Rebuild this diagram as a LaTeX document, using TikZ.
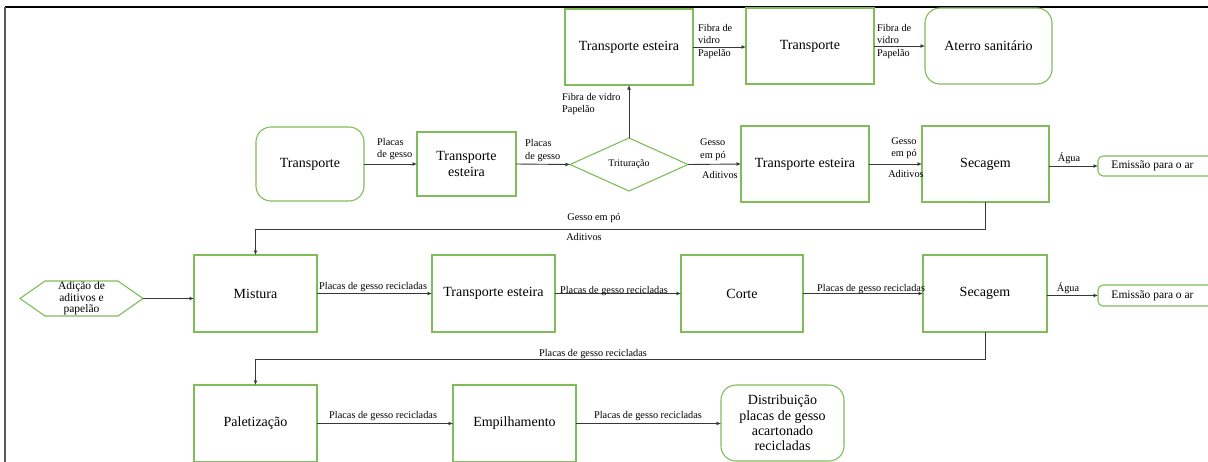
\documentclass[tikz,border=0pt]{standalone}
\usepackage{fontspec}
\setmainfont{Liberation Serif}
\newfontfamily\tnr{Liberation Serif}
\usetikzlibrary{arrows.meta,shapes.geometric}
\definecolor{grn}{RGB}{128,188,90}
\definecolor{arrc}{RGB}{55,55,55}
\newcommand{\mainfs}{\tnr\fontsize{14}{16}\selectfont}
\newcommand{\smallfs}{\tnr\fontsize{10.3}{12.5}\selectfont}
\begin{document}
\begin{tikzpicture}[x=1pt,y=-1pt,
  box/.style={draw=grn, line width=1.1pt, rectangle, inner sep=0pt, outer sep=0pt,
              font=\mainfs, align=center},
  rbox/.style={box, rounded corners=15pt},
  emis/.style={box, rounded corners=5pt, font=\tnr\fontsize{11.5}{13}\selectfont,
               minimum width=122pt},
  arr/.style={draw=arrc, line width=0.9pt, -{Latex[length=4.5pt,width=4pt]}},
  lbl/.style={font=\smallfs, inner sep=0pt, align=left, text=black},
  clbl/.style={lbl, align=center}]
\path[use as bounding box] (0,0) rectangle (1208,461);
\clip (0,0) rectangle (1208,461);

% page frame
\draw[black, line width=1.5pt] (5,7) -- (1210,7);
\draw[gray!70!black, line width=2pt] (5,7) -- (5,465);

% --- top row: rejects
\node[box,  minimum width=128pt, minimum height=76pt] (teTop) at (629,47)   {Transporte esteira};
\node[box,  minimum width=128pt, minimum height=76pt] (trTop) at (810,46)   {Transporte};
\node[rbox, minimum width=127pt, minimum height=76pt] (aterro) at (988.5,46) {Aterro sanitário};

% --- second row: reception and grinding
\node[rbox, minimum width=108pt, minimum height=74pt] (transp) at (310,164)   {Transporte};
\node[box,  minimum width=99pt,  minimum height=64pt] (te2)    at (466.5,164) {Transporte\\esteira};
\node[draw=grn, line width=1.1pt, diamond, aspect=2.2, inner sep=0pt, outer sep=0pt,
      minimum width=118pt, minimum height=53pt, font=\tnr\fontsize{10}{12}\selectfont]
      (trit) at (629,164.5) {Trituração};
\node[box,  minimum width=128pt, minimum height=76pt] (te3)  at (805,164)   {Transporte esteira};
\node[box,  minimum width=127pt, minimum height=76pt] (sec1) at (985.5,164) {Secagem};
\node[emis, minimum height=20pt] (em1) at (1159,166) {\hspace*{-13pt}Emissão para o ar};

% --- third row: mixing and forming
\node[minimum width=123pt, minimum height=35pt, inner sep=0pt, outer sep=0pt,
      align=center, font=\tnr\fontsize{11.5}{11.7}\selectfont] (hex) at (81.5,298.5)
      {Adição de\\aditivos e\\papelão};
\draw[grn, line width=1.1pt] (hex.west) -- ([xshift=25pt]hex.north west)
  -- ([xshift=-25pt]hex.north east) -- (hex.east)
  -- ([xshift=-25pt]hex.south east) -- ([xshift=25pt]hex.south west) -- cycle;
\node[box, minimum width=123pt, minimum height=77pt] (mist)  at (255.5,293.5) {Mistura};
\node[box, minimum width=123pt, minimum height=77pt] (te4)   at (493.5,293.5) {Transporte esteira};
\node[box, minimum width=122pt, minimum height=77pt] (corte) at (742,293.5)   {Corte};
\node[box, minimum width=124pt, minimum height=77pt] (sec2)  at (985,293.5)   {Secagem};
\node[emis, minimum height=21pt] (em2) at (1159,295.5) {\hspace*{-13pt}Emissão para o ar};

% --- bottom row: finishing
\node[box,  minimum width=123pt, minimum height=77pt] (palet)  at (255.5,423.5) {Paletização};
\node[box,  minimum width=123pt, minimum height=77pt] (empil)  at (514.5,423.5) {Empilhamento};
\node[rbox, minimum width=123pt, minimum height=76pt, font=\tnr\fontsize{14}{15.3}\selectfont]
      (distr) at (782.5,423) {Distribuição\\placas de gesso\\acartonado\\recicladas};

% --- connectors
\draw[arr] (teTop.east) -- (teTop.east -| trTop.west);
\draw[arr] (trTop.east) -- (trTop.east -| aterro.west);
\draw[arr] (transp.east) -- (te2.west);
\draw[arr] (te2.east) -- (trit.west);
\draw[arr] (trit.north) -- (teTop.south);
\draw[arr] (trit.east) -- (te3.west);
\draw[arr] (te3.east) -- (sec1.west);
\draw[arr] (sec1.east |- em1.west) -- (em1.west);
\draw[arr] (sec1.south) -- ++(0,27) -| (mist.north);
\draw[arr] (hex.east) -- (hex.east -| mist.west);
\draw[arr] (mist.east) -- (te4.west);
\draw[arr] (te4.east) -- (corte.west);
\draw[arr] (corte.east) -- (sec2.west);
\draw[arr] (sec2.east |- em2.west) -- (em2.west);
\draw[arr] (sec2.south) -- ++(0,27) -| (palet.north);
\draw[arr] (palet.east) -- (empil.west);
\draw[arr] (empil.east) -- (empil.east -| distr.west);

% --- flow labels
\node[lbl, anchor=west] (l1) at (698,41.5) {Fibra de\\vidro\\Papelão};
\node[lbl, anchor=west] (l2) at (877,41.5) {Fibra de\\vidro\\Papelão};
\node[lbl, anchor=west] (l3) at (377,149) {Placas\\de gesso};
\node[lbl, anchor=west] (l4) at (525,150.5) {Placas\\de gesso};
\node[lbl, anchor=west] (l5) at (562,104) {Fibra de vidro\\Papelão};
\node[lbl, anchor=west] (l6) at (700,149.5) {Gesso\\em pó};
\node[lbl, anchor=west] (l7) at (702,175) {Aditivos};
\node[clbl] (l8) at (904,148) {Gesso\\em pó};
\node[clbl] (l9) at (906,174) {Aditivos};
\node[clbl] (l10) at (1069,158) {Água};
\node[clbl] (l11) at (594,218) {Gesso em pó};
\node[clbl] (l12) at (584,237) {Aditivos};
\node[lbl, anchor=west] (l13) at (319,287) {Placas de gesso recicladas};
\node[clbl] (l14) at (614,291) {Placas de gesso recicladas};
\node[lbl, anchor=west] (l15) at (817,289) {Placas de gesso recicladas};
\node[clbl] (l16) at (1068,288) {Água};
\node[clbl] (l17) at (593,354) {Placas de gesso recicladas};
\node[lbl, anchor=west] (l18) at (329,416) {Placas de gesso recicladas};
\node[clbl] (l19) at (648,416) {Placas de gesso recicladas};
\end{tikzpicture}
\end{document}
